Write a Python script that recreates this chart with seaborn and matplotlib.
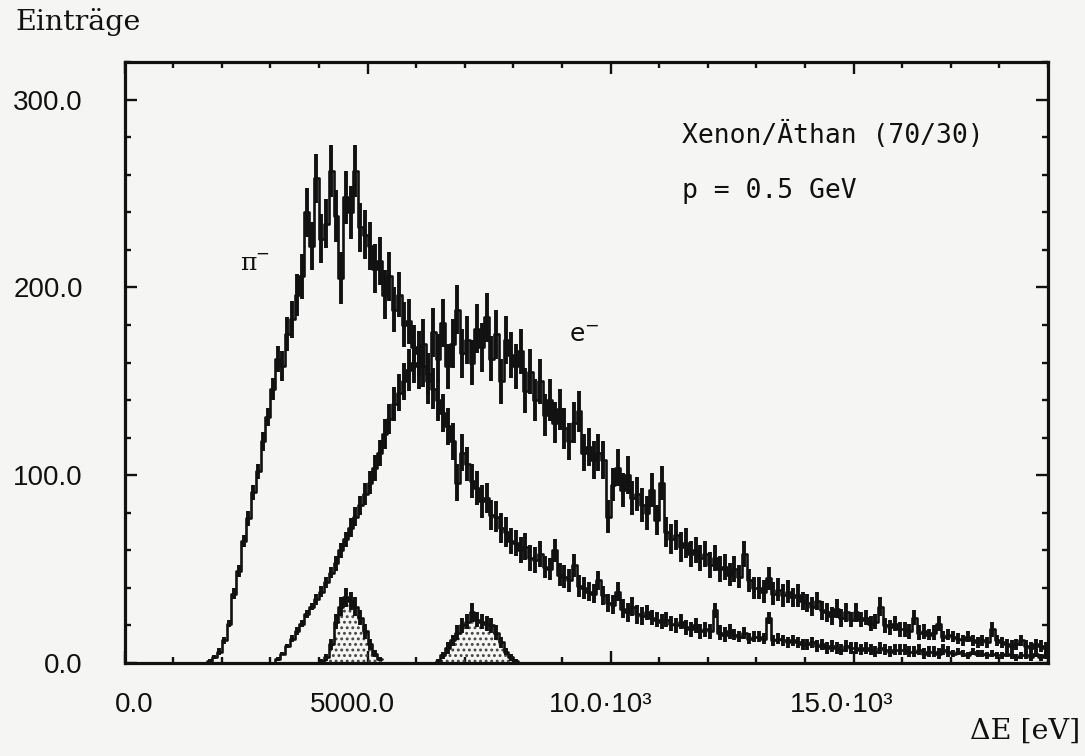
import numpy as np
import pandas as pd
import matplotlib
matplotlib.use("Agg")
import matplotlib.pyplot as plt
import matplotlib.transforms as mtransforms
from matplotlib.ticker import MultipleLocator, FixedLocator, FixedFormatter, NullFormatter
import seaborn as sns

# ---------------- data (100 eV bins) ----------------
bin_width = 100.0
hist_start = 0.0

pion = [
    0, 0, 0, 0, 0, 0, 0, 0, 0, 0,
    0, 0, 0, 0, 0, 0, 0, 1, 3, 6,
    12, 21, 37, 49, 65, 77, 91, 102, 118, 131,
    146, 162, 158, 175, 183, 196, 206, 240, 222, 258,
    226, 234, 262, 238, 205, 248, 240, 262, 232, 228,
    222, 210, 214, 196, 206, 188, 196, 180, 182, 168,
    165, 158, 154, 146, 140, 133, 126, 118, 96, 112,
    106, 97, 93, 86, 88, 79, 78, 72, 70, 65,
    64, 60, 62, 56, 55, 58, 51, 50, 60, 47,
    46, 44, 52, 41, 40, 38, 37, 44, 36, 32,
    31, 38, 29, 27, 30, 26, 25, 27, 24, 23,
    22, 23, 21, 20, 22, 19, 18, 20, 17, 18,
    17, 28, 16, 15, 17, 15, 14, 16, 13, 14,
    14, 13, 24, 12, 13, 12, 11, 12, 11, 10,
    10, 11, 9, 10, 8, 9, 8, 7, 9, 8,
    8, 7, 8, 7, 6, 8, 7, 6, 7, 7,
    7, 6, 6, 7, 5, 6, 6, 5, 7, 6,
    5, 6, 5, 4, 6, 5, 5, 4, 5, 4,
    4, 5, 4, 3, 4, 4, 3, 5, 3, 4,
]
pion_err = [
    0, 0, 0, 0, 0, 0, 0, 0, 0, 0,
    0, 0, 0, 0, 0, 0, 0, 1, 1, 2,
    2, 2, 3, 3, 3, 4, 4, 4, 5, 5,
    6, 7, 8, 9, 10, 11, 12, 13, 13, 13,
    13, 13, 14, 14, 14, 14, 14, 14, 13, 13,
    13, 13, 13, 13, 13, 12, 12, 12, 12, 12,
    12, 11, 11, 11, 11, 10, 10, 10, 10, 10,
    9, 9, 9, 9, 8, 8, 8, 8, 8, 7,
    7, 7, 7, 7, 7, 7, 6, 6, 6, 6,
    6, 6, 6, 6, 6, 5, 5, 5, 5, 5,
    5, 5, 5, 5, 5, 5, 5, 4, 4, 4,
    4, 4, 4, 4, 4, 4, 4, 4, 4, 4,
    4, 4, 4, 4, 4, 3, 3, 3, 3, 3,
    3, 3, 3, 3, 3, 3, 3, 3, 3, 3,
    3, 3, 3, 3, 3, 3, 3, 3, 3, 3,
    3, 3, 3, 3, 3, 3, 3, 3, 3, 3,
    3, 3, 3, 3, 3, 3, 3, 3, 3, 3,
    2, 2, 2, 2, 2, 2, 2, 2, 2, 2,
    2, 2, 2, 2, 2, 2, 2, 2, 2, 2,
]
electron = [
    0, 0, 0, 0, 0, 0, 0, 0, 0, 0,
    0, 0, 0, 0, 0, 0, 0, 0, 0, 0,
    0, 0, 0, 0, 0, 0, 0, 0, 0, 0,
    0, 2, 5, 9, 13, 17, 21, 26, 30, 34,
    38, 43, 48, 53, 60, 66, 72, 78, 84, 90,
    96, 104, 112, 122, 130, 138, 144, 150, 156, 160,
    158, 170, 150, 176, 162, 181, 158, 170, 188, 165,
    172, 160, 178, 168, 184, 162, 175, 150, 172, 164,
    158, 166, 145, 155, 140, 150, 132, 140, 128, 135,
    125, 118, 128, 134, 112, 115, 108, 112, 108, 78,
    95, 104, 92, 100, 88, 90, 84, 80, 92, 76,
    96, 70, 66, 68, 62, 64, 58, 60, 56, 58,
    52, 56, 50, 51, 47, 50, 46, 58, 44, 40,
    40, 38, 45, 37, 39, 36, 38, 35, 36, 33,
    32, 30, 33, 28, 27, 25, 29, 24, 27, 23,
    27, 23, 24, 21, 22, 30, 20, 19, 21, 18,
    18, 17, 24, 16, 17, 15, 16, 21, 14, 15,
    14, 13, 12, 14, 12, 11, 12, 11, 18, 12,
    11, 10, 9, 10, 12, 9, 8, 10, 9, 8,
]
electron_err = [
    0, 0, 0, 0, 0, 0, 0, 0, 0, 0,
    0, 0, 0, 0, 0, 0, 0, 0, 0, 0,
    0, 0, 0, 0, 0, 0, 0, 0, 0, 0,
    0, 1, 1, 1, 2, 2, 2, 2, 2, 3,
    3, 3, 3, 4, 4, 4, 5, 5, 5, 6,
    6, 7, 7, 8, 8, 9, 10, 10, 11, 11,
    12, 13, 12, 13, 13, 13, 12, 13, 13, 13,
    13, 12, 13, 13, 13, 12, 13, 12, 13, 12,
    12, 12, 12, 12, 11, 12, 11, 11, 11, 11,
    11, 10, 11, 11, 10, 10, 10, 10, 10, 9,
    9, 10, 9, 10, 9, 9, 9, 9, 9, 8,
    9, 8, 8, 8, 8, 8, 7, 7, 7, 7,
    7, 7, 7, 7, 6, 7, 6, 7, 6, 6,
    6, 6, 6, 6, 6, 6, 6, 5, 6, 5,
    5, 5, 5, 5, 5, 5, 5, 5, 5, 4,
    5, 4, 4, 4, 4, 5, 4, 4, 4, 4,
    4, 4, 4, 4, 4, 3, 4, 4, 3, 3,
    3, 3, 3, 3, 3, 3, 3, 3, 4, 3,
    3, 3, 3, 3, 3, 3, 3, 3, 3, 3,
]
peak1_start = 4000.0
peak1 = [1, 3, 10, 22, 30, 35, 33, 30, 24, 17, 10, 5, 2]
peak1_err = [1, 2, 3, 4, 5, 5, 5, 5, 4, 4, 3, 2, 1]
peak2_start = 6400.0
peak2 = [1, 4, 8, 12, 16, 20, 22, 27, 23, 22, 21, 20, 16, 11, 6, 3, 1]
peak2_err = [1, 2, 3, 3, 4, 4, 4, 5, 4, 4, 4, 4, 4, 3, 2, 2, 1]

x_tickvals = [0, 5000, 10000, 15000]
x_ticklabels = ["0.0", "5000.0", "10.0·10³", "15.0·10³"]
y_tickvals = [0, 100, 200, 300]
y_ticklabels = ["0.0", "100.0", "200.0", "300.0"]

# ---------------- style ----------------
sns.set_style("ticks")
plt.rcParams["font.family"] = ["Liberation Sans", "DejaVu Sans"]
plt.rcParams["hatch.linewidth"] = 1.3

ink = "#111111"
paper = "#f5f5f3"

W, H = 1085, 756
fig = plt.figure(figsize=(W / 100, H / 100), dpi=100, facecolor=paper)
ax = fig.add_axes([124.5 / W, 1 - 663 / H, (1048 - 124.5) / W, (663 - 62) / H])
ax.set_facecolor(paper)


def draw_hist(start, vals, errs, hatch=False):
    vals = np.asarray(vals, float)
    edges = start + bin_width * np.arange(len(vals) + 1)
    centers = edges[:-1] + bin_width / 2
    if hatch:
        ax.fill_between(edges, np.append(vals, vals[-1]), step="post",
                        facecolor="none", edgecolor="#444444", hatch="...",
                        linewidth=0, zorder=1)
    df = pd.DataFrame({"energy": centers, "entries": vals})
    sns.histplot(data=df, x="energy", weights="entries", binwidth=bin_width,
                 binrange=(float(edges[0]), float(edges[-1])), element="step",
                 fill=False, color=ink, linewidth=1.9, ax=ax, zorder=3)
    ax.errorbar(centers, vals, yerr=errs, fmt="none", ecolor=ink,
                elinewidth=2.8, capsize=0, zorder=3)


draw_hist(hist_start, pion, pion_err)
draw_hist(hist_start, electron, electron_err)
draw_hist(peak1_start, peak1, peak1_err, hatch=True)
draw_hist(peak2_start, peak2, peak2_err, hatch=True)

ax.set_xlim(0, 19000)
ax.set_ylim(0, 320)
ax.set_xlabel("")
ax.set_ylabel("")

ax.xaxis.set_major_locator(FixedLocator(x_tickvals))
ax.xaxis.set_major_formatter(NullFormatter())
ax.xaxis.set_minor_locator(MultipleLocator(1000))
ax.yaxis.set_major_locator(FixedLocator(y_tickvals))
ax.yaxis.set_major_formatter(FixedFormatter(y_ticklabels))
ax.yaxis.set_minor_locator(MultipleLocator(20))
ax.tick_params(which="both", direction="in", top=True, right=True,
               color=ink, width=1.7)
ax.tick_params(which="major", length=8.5)
ax.tick_params(which="minor", length=4.5)
ax.tick_params(axis="y", which="major", pad=30, labelsize=20, labelcolor=ink)
for s in ax.spines.values():
    s.set_linewidth(2.3)
    s.set_color(ink)

# x tick labels, placed as in the original (slightly off-centre)
x_label_shift_px = [10, -15, -10, -12]
for v, lab, dx in zip(x_tickvals, x_ticklabels, x_label_shift_px):
    tr = ax.get_xaxis_transform() + mtransforms.ScaledTranslation(
        dx / 100, -29 / 100, fig.dpi_scale_trans)
    ax.text(v, 0, lab, transform=tr, ha="center", va="top", fontsize=20,
            color=ink, clip_on=False)

# texts
fig.text(15 / W, 1 - 22 / H, "Einträge", family="DejaVu Serif", size=20.5,
         ha="left", va="center", color=ink)
fig.text(1080 / W, 1 - 731 / H, "ΔE [eV]", family="DejaVu Serif", size=20.5,
         ha="right", va="center", color=ink)
fig.text(682 / W, 1 - 135 / H, "Xenon/Äthan (70/30)", family="DejaVu Sans Mono",
         size=19, ha="left", va="center", color=ink)
fig.text(682 / W, 1 - 191 / H, "p = 0.5 GeV", family="DejaVu Sans Mono",
         size=19, ha="left", va="center", color=ink)
fig.text(240 / W, 1 - 263 / H, "π", family="DejaVu Serif", size=18,
         ha="left", va="center", color=ink)
fig.text(255 / W, 1 - 254 / H, "−", family="DejaVu Sans", size=12,
         ha="left", va="center", color=ink)
fig.text(569 / W, 1 - 335 / H, r"$\mathrm{e}^{-}$", size=18, ha="left",
         va="center", color=ink)

fig.savefig("out.png", dpi=100, facecolor=paper)
